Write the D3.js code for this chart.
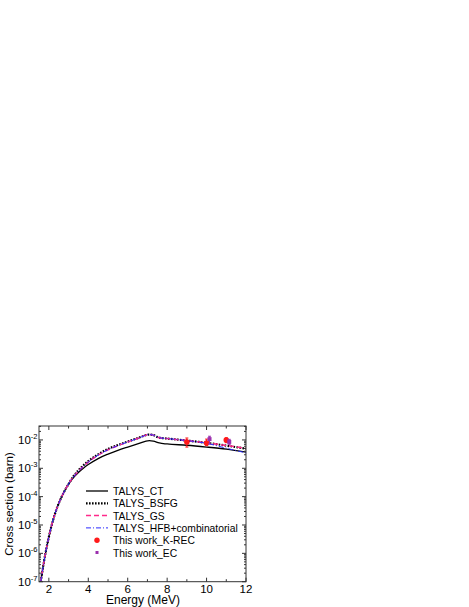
<!DOCTYPE html>
<meta charset="utf-8">
<script src="https://cdn.jsdelivr.net/npm/d3@7"></script>
<style>
body { margin: 0; background: #fff; }
svg { display: block; }
text { font-family: "Liberation Sans", Arial, sans-serif; fill: #000; }
.frame { fill: none; stroke: #333; stroke-width: 1px; }
.tick { stroke: #333; stroke-width: 1px; }
</style>
<body>
<script>

// energies (MeV) for the TALYS curves
var energy = [1.59, 1.75, 2.0, 2.25, 2.5, 2.75, 3.0, 3.25, 3.5, 3.75, 4.0, 4.5, 5.0, 5.5, 6.0, 6.5, 7.1, 7.3, 7.6, 8, 9, 10, 11, 12];

// cross sections (barn)
var talysCT   = [1.0e-7, 5.0e-7, 3.8e-6, 1.82e-5, 5.75e-5, 1.38e-4, 2.75e-4, 4.7e-4, 7.1e-4, 1.0e-3, 1.35e-3, 2.2e-3, 3.16e-3, 4.3e-3, 5.6e-3, 7.2e-3, 9.5e-3, 9.1e-3, 7.8e-3, 7.2e-3, 6.5e-3, 5.6e-3, 4.7e-3, 3.7e-3];
var talysBSFG = [1.0e-7, 5.0e-7, 3.8e-6, 1.82e-5, 5.75e-5, 1.38e-4, 2.8e-4, 5.25e-4, 8.5e-4, 1.26e-3, 1.78e-3, 3.1e-3, 4.8e-3, 6.6e-3, 8.7e-3, 1.15e-2, 1.55e-2, 1.48e-2, 1.2e-2, 1.12e-2, 9.5e-3, 7.9e-3, 6.3e-3, 4.9e-3];
var talysGS   = [1.0e-7, 5.0e-7, 3.8e-6, 1.82e-5, 5.75e-5, 1.38e-4, 2.8e-4, 5.0e-4, 7.9e-4, 1.17e-3, 1.66e-3, 2.9e-3, 4.5e-3, 6.3e-3, 8.5e-3, 1.12e-2, 1.55e-2, 1.48e-2, 1.2e-2, 1.12e-2, 9.5e-3, 7.9e-3, 6.4e-3, 5.0e-3];
var talysHFB  = [1.0e-7, 5.0e-7, 3.8e-6, 1.82e-5, 5.75e-5, 1.38e-4, 2.8e-4, 5.0e-4, 7.9e-4, 1.17e-3, 1.66e-3, 2.9e-3, 4.5e-3, 6.3e-3, 8.5e-3, 1.12e-2, 1.55e-2, 1.48e-2, 1.2e-2, 1.12e-2, 9.5e-3, 7.6e-3, 5.1e-3, 3.5e-3];

// this work
var krecE   = [9, 10, 11];
var krecY   = [8.5e-3, 7.8e-3, 1.0e-2];
var krecLo  = [5.6e-3, 6.3e-3, 8.0e-3];
var krecHi  = [1.17e-2, 1.07e-2, 1.2e-2];
var ecE     = [10.15, 11.15];
var ecY     = [1.07e-2, 8.5e-3];
var ecLo    = [7.2e-3, 7.0e-3];
var ecHi    = [1.35e-2, 1.05e-2];

var xTicks = [2, 4, 6, 8, 10, 12];
var yTicks = [1e-7, 1e-6, 1e-5, 1e-4, 1e-3, 1e-2];
var legendNames = ["TALYS_CT", "TALYS_BSFG", "TALYS_GS", "TALYS_HFB+combinatorial", "This work_K-REC", "This work_EC"];

var width = 469, height = 607;
var plotL = 39, plotR = 246, plotT = 426, plotB = 581.7;

var svg = d3.select("body").append("svg")
    .attr("width", width)
    .attr("height", height);

var x = d3.scaleLinear().domain([1.5, 12]).range([plotL, plotR]);
var y = d3.scaleLog().domain([1e-7, 0.031]).range([plotB, plotT]);

// clip for curves
svg.append("clipPath").attr("id", "plot")
  .append("rect").attr("x", plotL).attr("y", plotT)
  .attr("width", plotR - plotL).attr("height", plotB - plotT);

var series = [
  {name: "CT", vals: talysCT, color: "#000", width: 1.3, dash: null},
  {name: "BSFG", vals: talysBSFG, color: "#000", width: 2.2, dash: "1.6,1.4"},
  {name: "GS", vals: talysGS, color: "#ff2a8a", width: 1.5, dash: "5,3"},
  {name: "HFB", vals: talysHFB, color: "#2a2aff", width: 1, dash: "5,2,1,2"}
];

var line = d3.line()
    .x(function(d) { return x(d[0]); })
    .y(function(d) { return y(d[1]); })
    .curve(d3.curveMonotoneX);

var g = svg.append("g").attr("clip-path", "url(#plot)");

series.forEach(function(s) {
  g.append("path")
    .datum(energy.map(function(e, i) { return [e, s.vals[i]]; }))
    .attr("d", line)
    .attr("fill", "none")
    .attr("stroke", s.color)
    .attr("stroke-width", s.width)
    .attr("stroke-dasharray", s.dash);
});

// error bars and points
function drawPoints(E, Y, lo, hi, color, shape) {
  E.forEach(function(e, i) {
    var cx = x(e);
    g.append("line").attr("x1", cx).attr("x2", cx)
      .attr("y1", y(lo[i])).attr("y2", y(hi[i]))
      .attr("stroke", color).attr("stroke-width", 1);
    [lo[i], hi[i]].forEach(function(v) {
      g.append("line").attr("x1", cx - 1.5).attr("x2", cx + 1.5)
        .attr("y1", y(v)).attr("y2", y(v))
        .attr("stroke", color).attr("stroke-width", 1);
    });
    if (shape == "circle") {
      g.append("circle").attr("cx", cx).attr("cy", y(Y[i])).attr("r", 2.8).attr("fill", color);
    } else {
      g.append("rect").attr("x", cx - 2).attr("y", y(Y[i]) - 2)
        .attr("width", 4).attr("height", 4).attr("fill", color);
    }
  });
}
drawPoints(krecE, krecY, krecLo, krecHi, "#ff1a1a", "circle");
drawPoints(ecE, ecY, ecLo, ecHi, "#9b2fae", "square");

// frame
svg.append("rect").attr("class", "frame")
  .attr("x", plotL).attr("y", plotT)
  .attr("width", plotR - plotL).attr("height", plotB - plotT);

// x ticks (inward, bottom and top)
d3.range(2, 13, 1).forEach(function(v) {
  var len = (v % 2 == 0) ? 4 : 2.5;
  var px = x(v);
  svg.append("line").attr("class", "tick").attr("x1", px).attr("x2", px).attr("y1", plotB).attr("y2", plotB - len);
  svg.append("line").attr("class", "tick").attr("x1", px).attr("x2", px).attr("y1", plotT).attr("y2", plotT + len);
});

xTicks.forEach(function(v) {
  svg.append("text").attr("x", x(v)).attr("y", 592.5)
    .attr("text-anchor", "middle").style("font-size", "11.5px").text(v);
});

// y ticks (log, inward, left and right)
yTicks.forEach(function(v) {
  for (var m = 1; m <= 9; m++) {
    var val = v * m;
    if (val > y.domain()[1]) break;
    var py = y(val);
    var len = m == 1 ? 4 : 2;
    svg.append("line").attr("class", "tick").attr("x1", plotL).attr("x2", plotL + len).attr("y1", py).attr("y2", py);
    svg.append("line").attr("class", "tick").attr("x1", plotR).attr("x2", plotR - len).attr("y1", py).attr("y2", py);
  }
  var t = svg.append("text").attr("x", 37.5).attr("y", y(v) + 4)
    .attr("text-anchor", "end").style("font-size", "11.5px");
  t.append("tspan").text("10");
  t.append("tspan").attr("dy", -5).style("font-size", "7.5px").text(Math.round(Math.log10(v)));
});

// axis titles
svg.append("text").attr("x", 143).attr("y", 604)
  .attr("text-anchor", "middle").style("font-size", "12px")
  .text("Energy  (MeV)");
svg.append("text")
  .attr("transform", "translate(13,504) rotate(-90)")
  .attr("text-anchor", "middle").style("font-size", "11.5px")
  .text("Cross section  (barn)");

// legend
var legY0 = 491, legDY = 12.3;
legendNames.forEach(function(name, i) {
  var ly = legY0 + i * legDY;
  if (i < 4) {
    var s = series[i];
    svg.append("line").attr("x1", 86).attr("x2", 108).attr("y1", ly).attr("y2", ly)
      .attr("stroke", s.color).attr("stroke-width", s.width)
      .attr("stroke-dasharray", s.dash);
  } else if (i == 4) {
    svg.append("circle").attr("cx", 97).attr("cy", ly).attr("r", 2.7).attr("fill", "#ff1a1a");
  } else {
    svg.append("rect").attr("x", 95.5).attr("y", ly - 1.5).attr("width", 3).attr("height", 3).attr("fill", "#9b2fae");
  }
  svg.append("text").attr("x", 113).attr("y", ly + 4)
    .style("font-size", "10.3px").text(name);
});

</script>
</body>
